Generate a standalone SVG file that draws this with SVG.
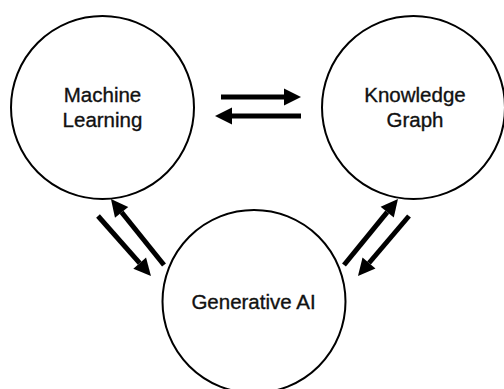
<svg xmlns="http://www.w3.org/2000/svg" width="504" height="389" viewBox="0 0 504 389">
<defs>
<style>
.node circle{fill:#fff;stroke:#000;stroke-width:2}
.node text{font-family:"Liberation Sans",Arial,sans-serif;font-size:20.5px;fill:#111;stroke:#111;stroke-width:0.35;text-anchor:middle}
.conn line{stroke:#000;stroke-width:5}
</style>
<marker id="ah" markerUnits="userSpaceOnUse" markerWidth="18" markerHeight="18" refX="0" refY="8.5" orient="auto" overflow="visible">
<path d="M0,0 L17,8.5 L0,17 z" fill="#000"/>
</marker>
</defs>
<rect width="504" height="389" fill="#fff"/>
<g id="machine-learning" class="node">
<circle cx="102.5" cy="107.5" r="91.5"/>
<text x="102.5" y="102">Machine</text>
<text x="102.5" y="127">Learning</text>
</g>
<g id="knowledge-graph" class="node">
<circle cx="413.5" cy="107.5" r="91.5"/>
<text x="415" y="102">Knowledge</text>
<text x="415" y="127">Graph</text>
</g>
<g id="generative-ai" class="node">
<circle cx="254" cy="301.5" r="91.5"/>
<text x="253.5" y="309">Generative AI</text>
</g>
<g id="connectors" class="conn">
<line x1="221" y1="97" x2="284" y2="97" marker-end="url(#ah)"/>
<line x1="301" y1="116" x2="232" y2="116" marker-end="url(#ah)"/>
<line x1="98" y1="216" x2="139.7" y2="263.2" marker-end="url(#ah)"/>
<line x1="164" y1="265" x2="121.6" y2="212.3" marker-end="url(#ah)"/>
<line x1="344" y1="265" x2="387.2" y2="212.2" marker-end="url(#ah)"/>
<line x1="409" y1="216" x2="369" y2="263" marker-end="url(#ah)"/>
</g>
</svg>
